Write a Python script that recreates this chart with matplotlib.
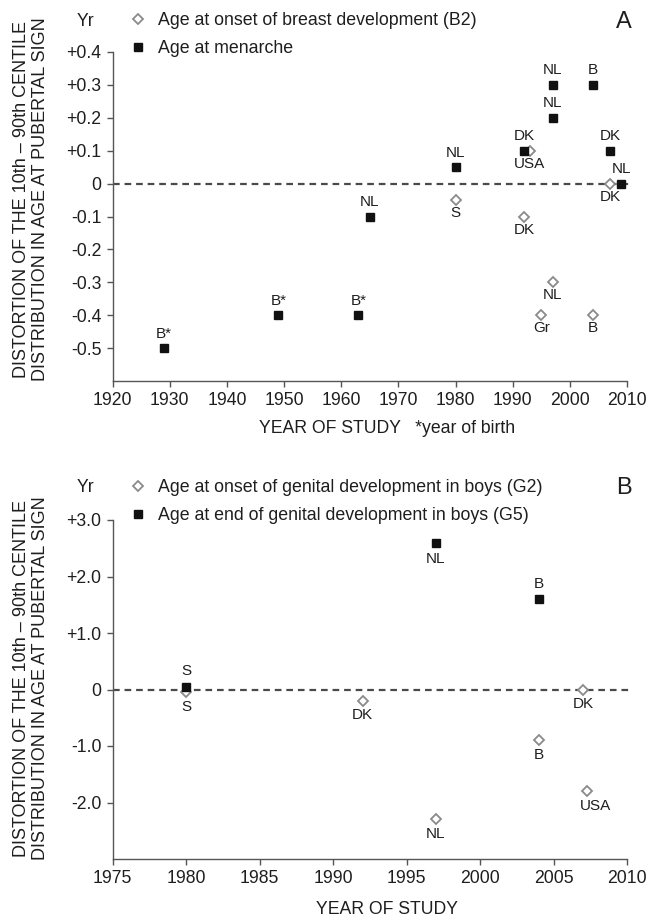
import matplotlib
matplotlib.use("Agg")
import matplotlib.pyplot as plt

plt.rcParams['font.family'] = ['Liberation Sans', 'DejaVu Sans']

# ---------------- Panel A data ----------------
a_menarche_year = [1929, 1949, 1963, 1965, 1980, 1992, 1997, 1997, 2004, 2007, 2009]
a_menarche_val = [-0.5, -0.4, -0.4, -0.1, 0.05, 0.1, 0.3, 0.2, 0.3, 0.1, 0.0]
a_menarche_lab = ["B*", "B*", "B*", "NL", "NL", "DK", "NL", "NL", "B", "DK", "NL"]

a_b2_year = [1980, 1992, 1993, 1995, 1997, 2004, 2007]
a_b2_val = [-0.05, -0.1, 0.1, -0.4, -0.3, -0.4, 0.0]
a_b2_lab = ["S", "DK", "USA", "Gr", "NL", "B", "DK"]

a_xticks = [1920, 1930, 1940, 1950, 1960, 1970, 1980, 1990, 2000, 2010]
a_yticks = [0.4, 0.3, 0.2, 0.1, 0.0, -0.1, -0.2, -0.3, -0.4, -0.5]
a_yticklabels = ["+0.4", "+0.3", "+0.2", "+0.1", "0", "-0.1", "-0.2", "-0.3", "-0.4", "-0.5"]

# ---------------- Panel B data ----------------
b_g5_year = [1980, 1997, 2004]
b_g5_val = [0.05, 2.6, 1.6]
b_g5_lab = ["S", "NL", "B"]

b_g2_year = [1980, 1992, 1997, 2004, 2007, 2007.3]
b_g2_val = [-0.05, -0.2, -2.3, -0.9, 0.0, -1.8]
b_g2_lab = ["S", "DK", "NL", "B", "DK", "USA"]

b_xticks = [1975, 1980, 1985, 1990, 1995, 2000, 2005, 2010]
b_yticks = [3.0, 2.0, 1.0, 0.0, -1.0, -2.0]
b_yticklabels = ["+3.0", "+2.0", "+1.0", "0", "-1.0", "-2.0"]

W, H = 646, 919
fig = plt.figure(figsize=(W / 100, H / 100), dpi=100)

TXT = '#1e1e1e'
SQ = '#111111'
DIA = '#8a8a8a'
SPINE = '#555555'

def fx(px):
    return px / W

def fy(py):
    return 1 - py / H

def style_axes(ax, xlim, ylim, xticks, yticks, yticklabels):
    ax.set_xlim(*xlim)
    ax.set_ylim(*ylim)
    ax.set_xticks(xticks)
    ax.set_yticks(yticks)
    ax.set_yticklabels(yticklabels)
    for s in ['top', 'right']:
        ax.spines[s].set_visible(False)
    for s in ['left', 'bottom']:
        ax.spines[s].set_color(SPINE)
        ax.spines[s].set_linewidth(1.0)
    ax.tick_params(direction='out', length=4, width=1.0, color=SPINE,
                   labelsize=12.7, labelcolor=TXT, pad=4)
    ax.axhline(0, xmin=0, xmax=1.01, color='#4a4a4a', lw=1.6,
               linestyle=(0, (3, 2.2)), clip_on=False, zorder=1)

def label_points(ax, xs, ys, labs, dy, dx=None, fs=11):
    for i, (x, y, t) in enumerate(zip(xs, ys, labs)):
        ox = 0 if dx is None else dx[i]
        ax.annotate(t, (x, y), xytext=(ox, dy), textcoords='offset points',
                    ha='center', va='center', fontsize=fs, color=TXT,
                    annotation_clip=False)

LEG_KW = dict(frameon=False, handlelength=0.8, handletextpad=0.7,
              labelspacing=0.62, borderpad=0, borderaxespad=0, labelcolor=TXT)

# ---------------- Panel A ----------------
axA = fig.add_axes([fx(112.7), fy(381), fx(627) - fx(112.7), fy(52) - fy(381)])
style_axes(axA, (1920, 2010), (-0.6, 0.4), a_xticks, a_yticks, a_yticklabels)
hA2 = axA.plot(a_b2_year, a_b2_val, linestyle='none', marker='D', markersize=5,
               markerfacecolor='white', markeredgecolor=DIA, markeredgewidth=1.3,
               zorder=3, clip_on=False)[0]
hAm = axA.plot(a_menarche_year, a_menarche_val, linestyle='none', marker='s',
               markersize=6, markerfacecolor=SQ, markeredgecolor=SQ,
               zorder=4, clip_on=False)[0]
label_points(axA, a_menarche_year, a_menarche_val, a_menarche_lab, 10.5)
label_points(axA, a_b2_year, a_b2_val, a_b2_lab, -9.5)
axA.set_xlabel("YEAR OF STUDY   *year of birth", fontsize=12.7, color=TXT, labelpad=7)
axA.xaxis.set_label_coords(0.533, -0.118)

axA.legend([hA2, hAm], ["Age at onset of breast development (B2)", "Age at menarche"],
           loc='upper left', bbox_to_anchor=(fx(131), fy(12)),
           bbox_transform=fig.transFigure, fontsize=12.8, **LEG_KW)
fig.text(fx(85), fy(21), "Yr", fontsize=12.7, color=TXT, ha='center', va='center')
fig.text(fx(624), fy(22), "A", fontsize=17, color=TXT, ha='center', va='center')

# ---------------- Panel B ----------------
axB = fig.add_axes([fx(112.7), fy(859), fx(627) - fx(112.7), fy(520) - fy(859)])
style_axes(axB, (1975, 2010), (-3.0, 3.0), b_xticks, b_yticks, b_yticklabels)
hB2 = axB.plot(b_g2_year, b_g2_val, linestyle='none', marker='D', markersize=5,
               markerfacecolor='white', markeredgecolor=DIA, markeredgewidth=1.3,
               zorder=3, clip_on=False)[0]
hB5 = axB.plot(b_g5_year, b_g5_val, linestyle='none', marker='s', markersize=6,
               markerfacecolor=SQ, markeredgecolor=SQ, zorder=4, clip_on=False)[0]
g5_dy = [11, -12, 11]
for x, y, t, d in zip(b_g5_year, b_g5_val, b_g5_lab, g5_dy):
    axB.annotate(t, (x, y), xytext=(0, d), textcoords='offset points',
                 ha='center', va='center', fontsize=11, color=TXT)
g2_dx = [0, 0, 0, 0, 0, 6]
label_points(axB, b_g2_year, b_g2_val, b_g2_lab, -10.5, dx=g2_dx)
axB.set_xlabel("YEAR OF STUDY", fontsize=12.7, color=TXT)
axB.xaxis.set_label_coords(0.533, -0.125)

axB.legend([hB2, hB5], ["Age at onset of genital development in boys (G2)",
                        "Age at end of genital development in boys (G5)"],
           loc='upper left', bbox_to_anchor=(fx(131), fy(479)),
           bbox_transform=fig.transFigure, fontsize=12.8, **LEG_KW)
fig.text(fx(85), fy(488), "Yr", fontsize=12.7, color=TXT, ha='center', va='center')
fig.text(fx(624), fy(488), "B", fontsize=17, color=TXT, ha='center', va='center')

# ---------------- Y labels ----------------
ylab = "DISTORTION OF THE 10th \u2013 90th CENTILE\nDISTRIBUTION IN AGE AT PUBERTAL SIGN"
fig.text(fx(31), fy(381), ylab, rotation=90, fontsize=13, color=TXT,
         ha='center', va='bottom', multialignment='center', linespacing=1.2)
fig.text(fx(31), fy(860), ylab, rotation=90, fontsize=13, color=TXT,
         ha='center', va='bottom', multialignment='center', linespacing=1.2)

fig.savefig("out.png", dpi=100)
